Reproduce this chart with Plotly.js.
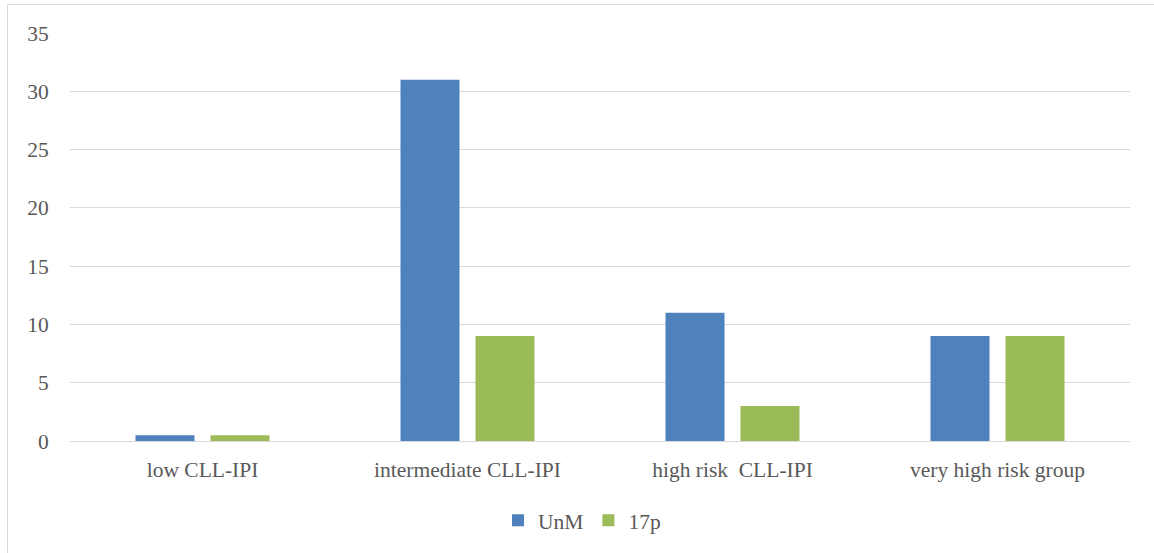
<!DOCTYPE html>
<html><head><meta charset="utf-8">
<script src="https://cdn.plot.ly/plotly-3.0.1.min.js"></script>
<style>
html,body{margin:0;padding:0;background:#fff;}
#chart{position:absolute;left:0;top:0;width:1154px;height:553px;}
#frame{position:absolute;left:7px;top:4px;width:1150px;height:552px;border:1px solid #d9d9d9;pointer-events:none;}
</style></head>
<body>
<div id="chart"></div>
<div id="frame"></div>
<script>
const categories = ["low CLL-IPI", "intermediate CLL-IPI", "high risk  CLL-IPI", "very high risk group"];
const unmValues = [0.5, 31, 11, 9];
const p17Values = [0.5, 9, 3, 9];
const seriesNames = ["UnM", "17p"];

const traces = [
  {type:'bar', name:seriesNames[0], x:categories, y:unmValues, marker:{color:'#4F81BD'}, hoverinfo:'none'},
  {type:'bar', name:seriesNames[1], x:categories, y:p17Values, marker:{color:'#9BBB59'}, hoverinfo:'none'}
];
const font = {family:'Liberation Serif', size:21.5, color:'#595959'};
const layout = {
  width:1154, height:553,
  margin:{l:70, r:24, t:33, b:112},
  paper_bgcolor:'rgba(0,0,0,0)', plot_bgcolor:'#fff',
  font:font,
  barmode:'group', bargap:0.434, bargroupgap:0.213,
  showlegend:true,
  legend:{orientation:'h', x:0.483, xanchor:'center', y:-0.194, yanchor:'middle', font:font, itemwidth:30, tracegroupgap:0},
  xaxis:{type:'category', showgrid:false, zeroline:false, showline:false, ticks:'outside', ticklen:9, tickcolor:'rgba(0,0,0,0)', tickfont:font},
  yaxis:{range:[0,35], dtick:5, tick0:0, showgrid:true, gridcolor:'#d9d9d9', gridwidth:1, zeroline:true, zerolinecolor:'#d9d9d9', zerolinewidth:1, showline:false, ticks:'outside', ticklen:16, tickcolor:'rgba(0,0,0,0)', tickfont:font}
};
Plotly.newPlot('chart', traces, layout, {staticPlot:true, displayModeBar:false});
</script>
</body></html>
